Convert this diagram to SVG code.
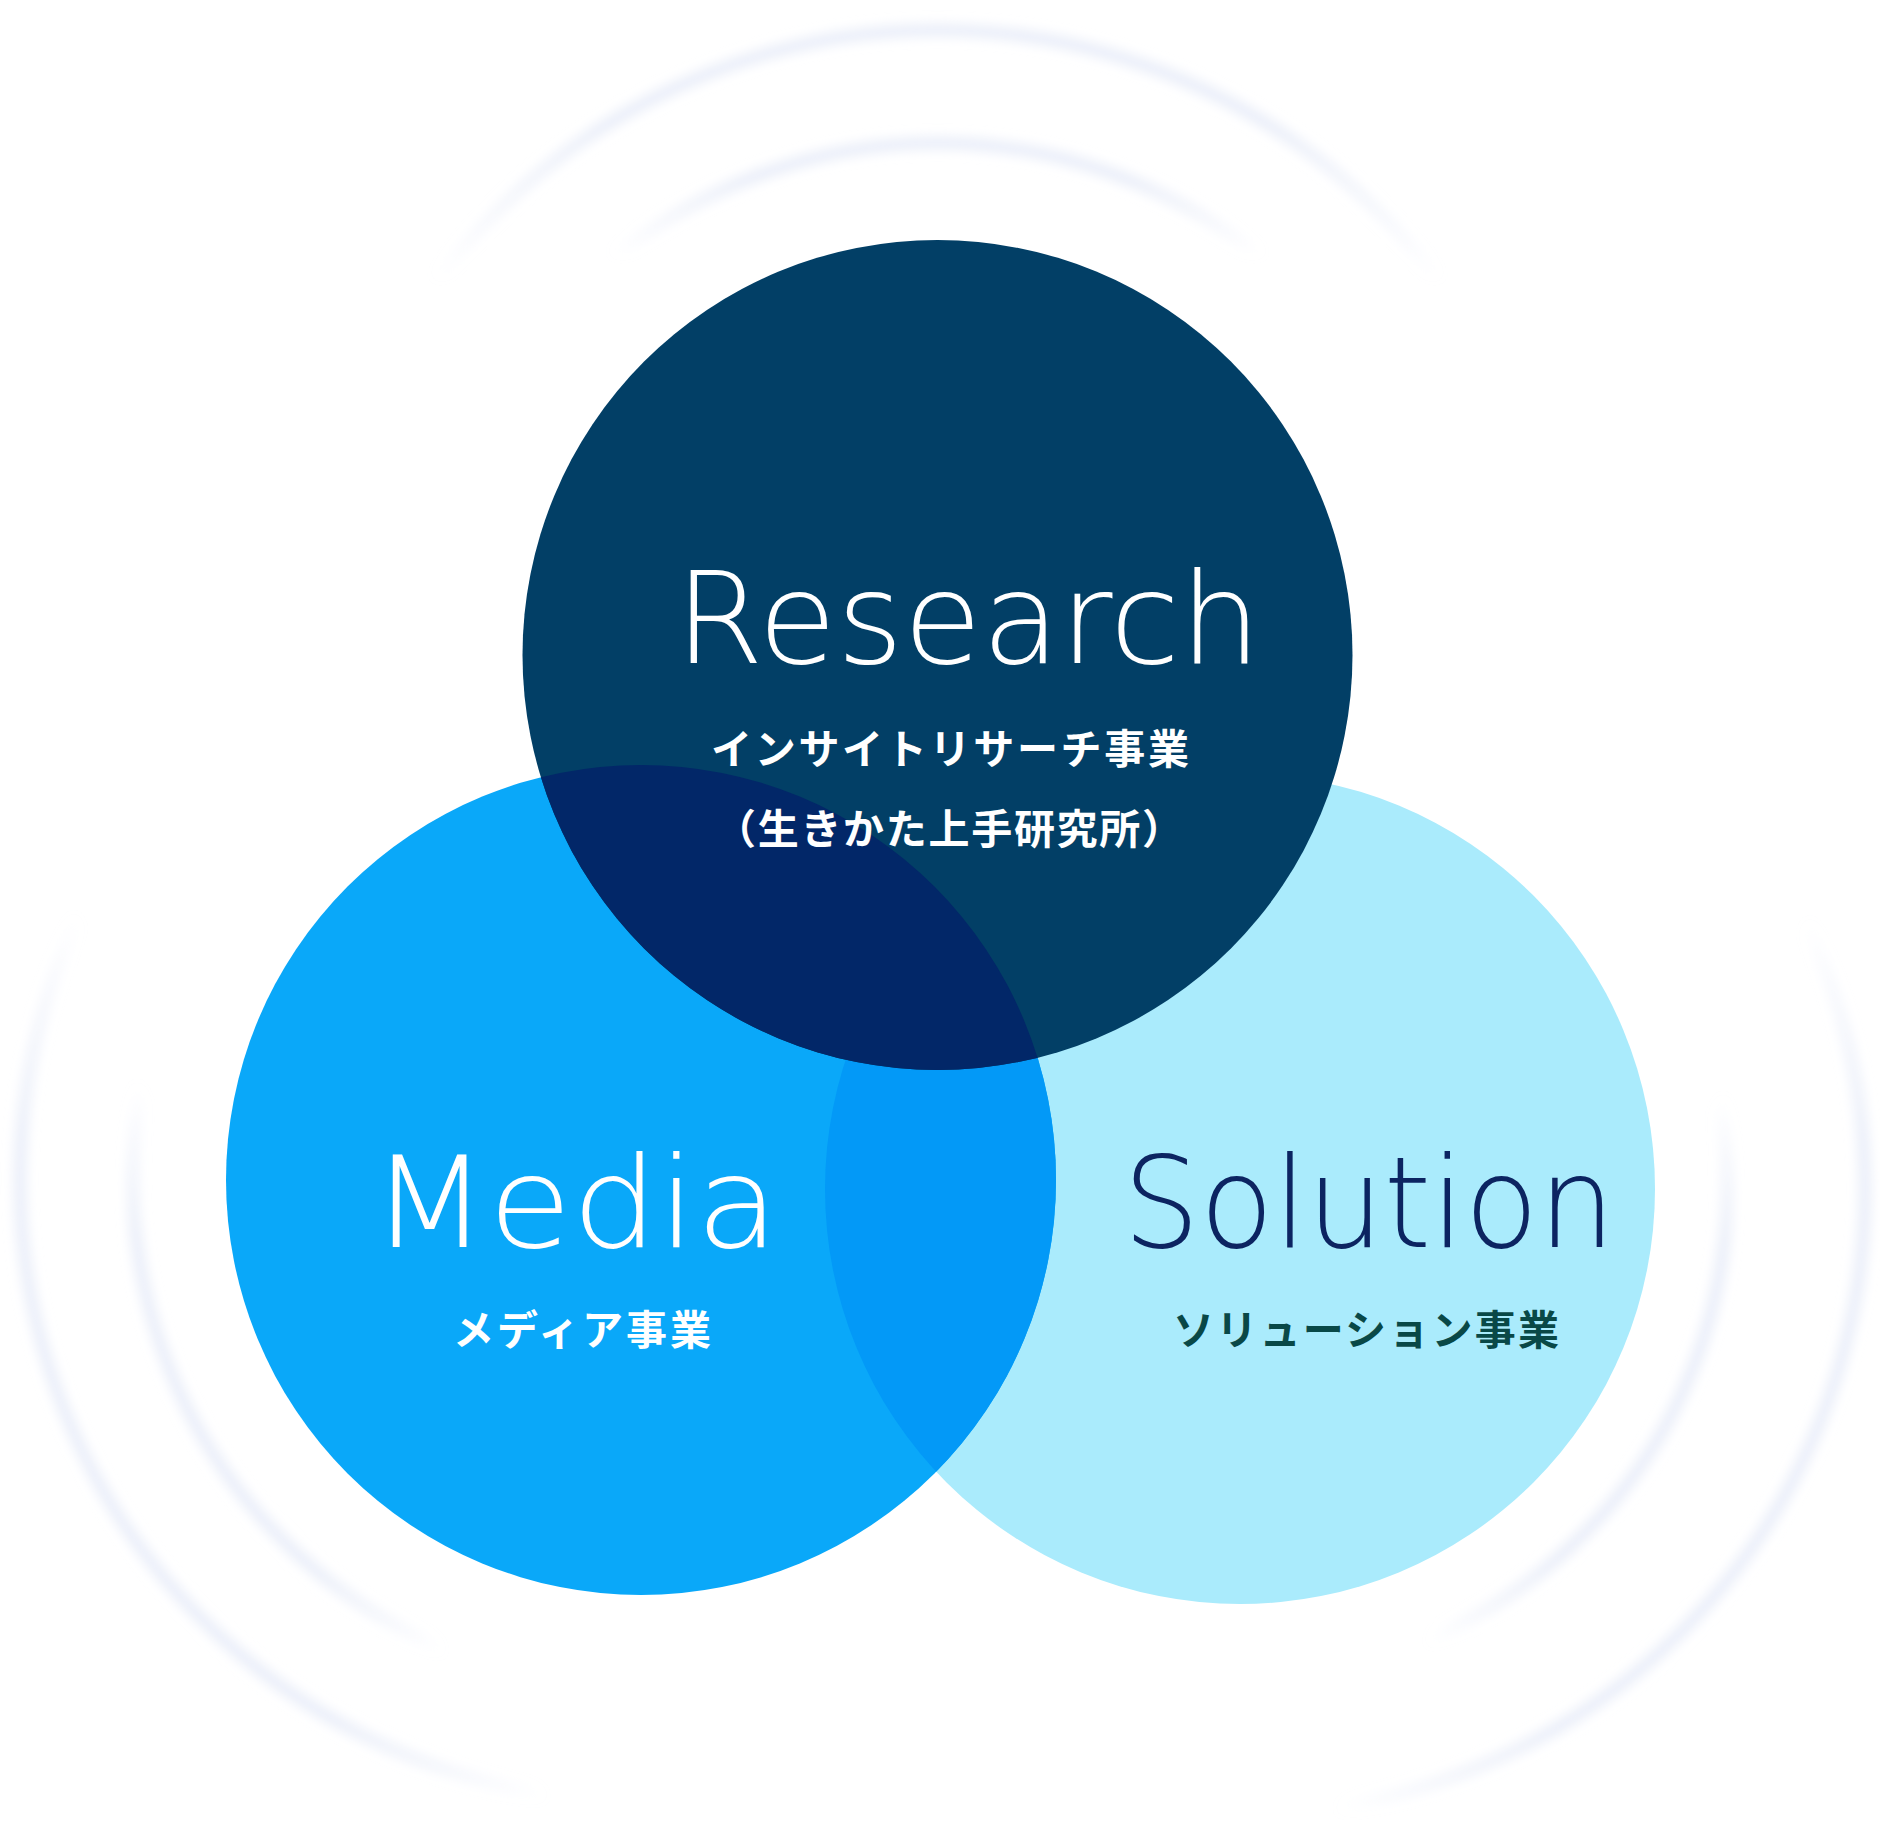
<svg xmlns="http://www.w3.org/2000/svg" width="1880" height="1821" viewBox="0 0 1880 1821">
  <style>
    .ring { fill: none; stroke-width: 12; filter: url(#soft); }
    .en { font-family: "DejaVu Sans", "Liberation Sans", sans-serif; font-weight: 200; font-size: 126px; }
    .jp { font-family: "Noto Sans CJK JP", "Noto Sans", sans-serif; font-weight: 700; font-size: 41px; }
    .white { fill: #ffffff; }
  </style>
  <defs>
    <filter id="soft" x="-10%" y="-10%" width="120%" height="120%">
      <feGaussianBlur stdDeviation="6"/>
    </filter>
    <linearGradient id="gRo" gradientUnits="userSpaceOnUse" x1="937.5" y1="280" x2="937.5" y2="124">
      <stop offset="0" stop-color="#e6ebf8" stop-opacity="0"/>
      <stop offset="1" stop-color="#e6ebf8" stop-opacity="0.85"/>
    </linearGradient>
    <linearGradient id="gRi" gradientUnits="userSpaceOnUse" x1="937.5" y1="256" x2="937.5" y2="179">
      <stop offset="0" stop-color="#e6ebf8" stop-opacity="0"/>
      <stop offset="1" stop-color="#e6ebf8" stop-opacity="0.85"/>
    </linearGradient>
    <linearGradient id="gMo" gradientUnits="userSpaceOnUse" x1="312" y1="1355" x2="175" y2="1428">
      <stop offset="0" stop-color="#e6ebf8" stop-opacity="0"/>
      <stop offset="1" stop-color="#e6ebf8" stop-opacity="0.85"/>
    </linearGradient>
    <linearGradient id="gMi" gradientUnits="userSpaceOnUse" x1="291" y1="1366" x2="224" y2="1402">
      <stop offset="0" stop-color="#e6ebf8" stop-opacity="0"/>
      <stop offset="1" stop-color="#e6ebf8" stop-opacity="0.85"/>
    </linearGradient>
    <linearGradient id="gSo" gradientUnits="userSpaceOnUse" x1="1571" y1="1365" x2="1709" y2="1438">
      <stop offset="0" stop-color="#e6ebf8" stop-opacity="0"/>
      <stop offset="1" stop-color="#e6ebf8" stop-opacity="0.85"/>
    </linearGradient>
    <linearGradient id="gSi" gradientUnits="userSpaceOnUse" x1="1575" y1="1367" x2="1640" y2="1402">
      <stop offset="0" stop-color="#e6ebf8" stop-opacity="0"/>
      <stop offset="1" stop-color="#e6ebf8" stop-opacity="0.85"/>
    </linearGradient>
    <clipPath id="clipSolution"><circle cx="1240" cy="1189" r="415"/></clipPath>
    <clipPath id="clipMedia"><circle cx="641" cy="1180" r="415"/></clipPath>
  </defs>

  <rect x="0" y="0" width="1880" height="1821" fill="#ffffff"/>

  <g id="rings">
    <circle class="ring" cx="937.5" cy="655" r="625" stroke="url(#gRo)"/>
    <circle class="ring" cx="937.5" cy="655" r="512" stroke="url(#gRi)"/>
    <circle class="ring" cx="641" cy="1180" r="621" stroke="url(#gMo)"/>
    <circle class="ring" cx="641" cy="1180" r="508" stroke="url(#gMi)"/>
    <circle class="ring" cx="1240" cy="1189" r="625" stroke="url(#gSo)"/>
    <circle class="ring" cx="1240" cy="1189" r="487" stroke="url(#gSi)"/>
  </g>

  <g id="connectors"></g>

  <g id="node-solution">
    <circle cx="1240" cy="1189" r="415" fill="#aaebfc"/>
    <text class="en" x="1123" y="1247" textLength="492" lengthAdjust="spacingAndGlyphs" fill="#0c2461">Solution</text>
    <text class="jp" x="1366" y="1345" text-anchor="middle" textLength="386" lengthAdjust="spacing" fill="#094847">ソリューション事業</text>
  </g>

  <g id="node-media">
    <circle cx="641" cy="1180" r="415" fill="#0aa8f9"/>
    <circle cx="641" cy="1180" r="415" fill="#0399f7" clip-path="url(#clipSolution)"/>
    <text class="en white" x="371" y="1247" textLength="408" lengthAdjust="spacingAndGlyphs">Media</text>
    <text class="jp white" x="582" y="1345" text-anchor="middle" textLength="258" lengthAdjust="spacing">メディア事業</text>
  </g>

  <g id="node-research">
    <circle cx="937.5" cy="655" r="415" fill="#023f66"/>
    <circle cx="937.5" cy="655" r="415" fill="#022768" clip-path="url(#clipMedia)"/>
    <text class="en white" x="675" y="663" textLength="586" lengthAdjust="spacingAndGlyphs">Research</text>
    <text class="jp white" x="950" y="764" text-anchor="middle" textLength="478" lengthAdjust="spacing">インサイトリサーチ事業</text>
    <text class="jp white" x="949" y="844" text-anchor="middle" textLength="468" lengthAdjust="spacing">（生きかた上手研究所）</text>
  </g>
</svg>
